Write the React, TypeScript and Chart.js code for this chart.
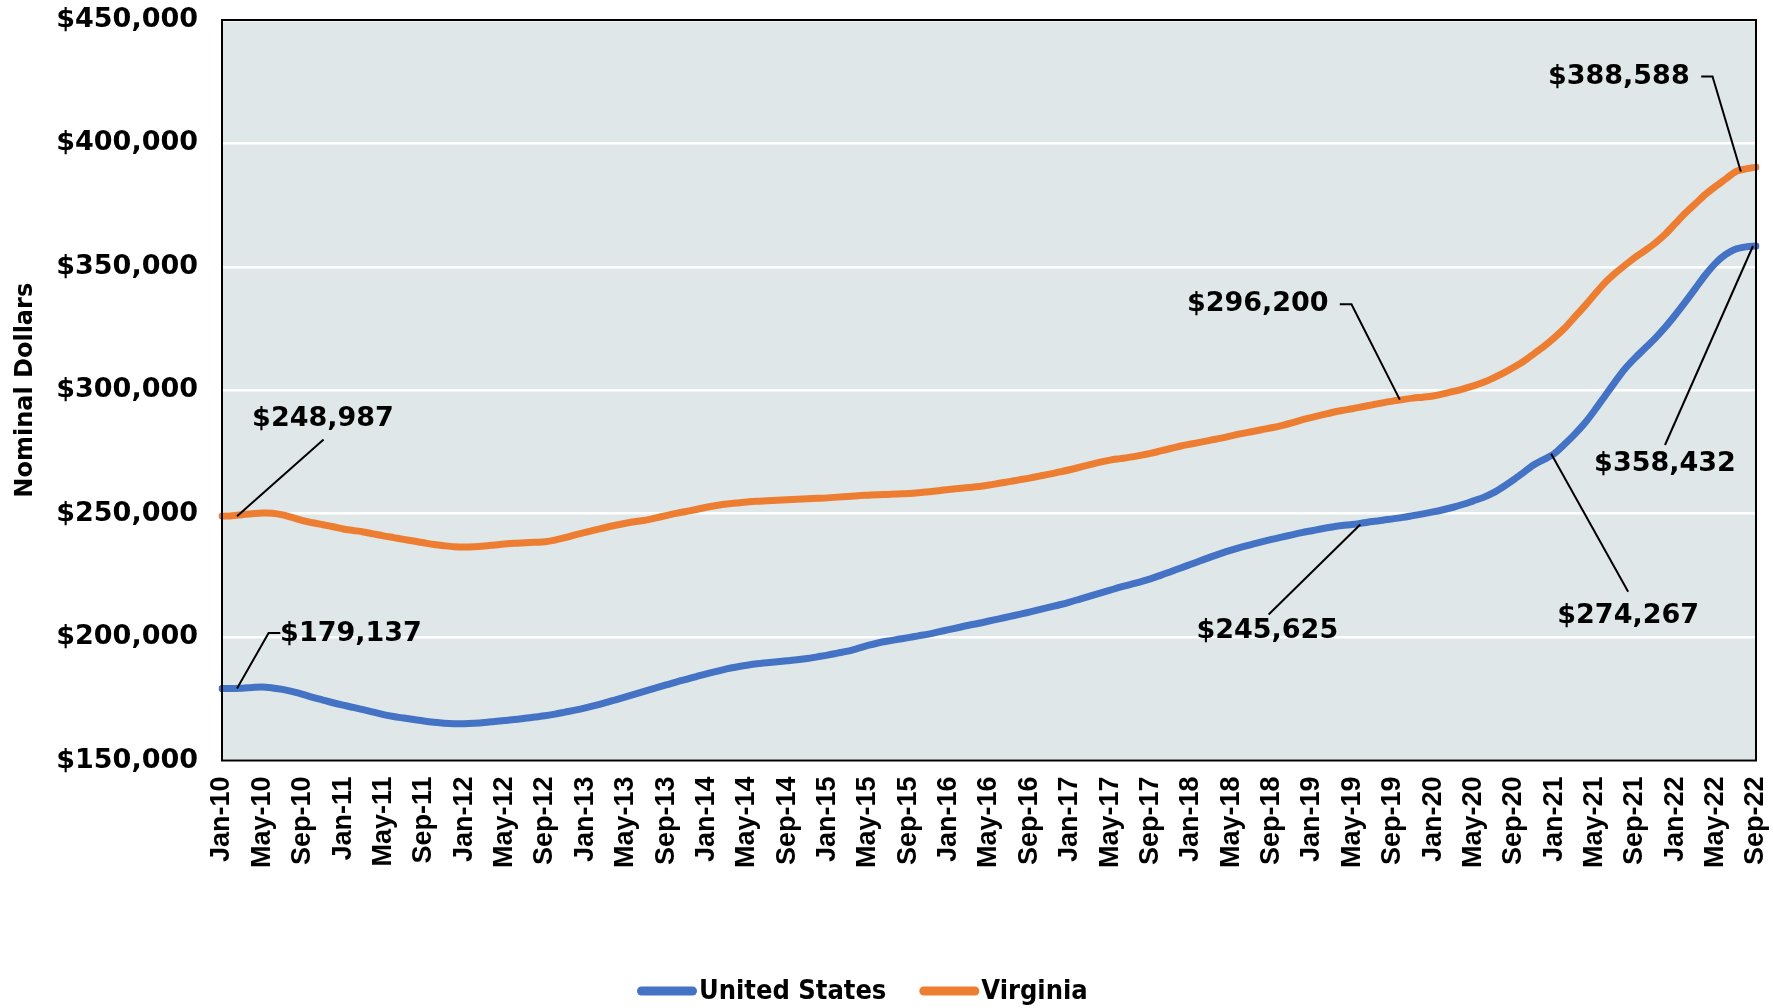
import React, { useEffect, useRef } from 'react';
import { Chart, registerables } from 'chart.js';

Chart.register(...registerables);

// ---------- data ----------
const MONTH_NAMES = ['Jan', 'Feb', 'Mar', 'Apr', 'May', 'Jun', 'Jul', 'Aug', 'Sep', 'Oct', 'Nov', 'Dec'];
const categories: string[] = [];
for (let y = 2010; y <= 2022; y++) {
  for (let m = 0; m < 12; m++) {
    if (y === 2022 && m > 8) break;
    categories.push(`${MONTH_NAMES[m]}-${String(y).slice(2)}`);
  }
}
const TICK_EVERY = 4;

const unitedStates: number[] = [
  179137, 179200, 179300, 179600, 179800, 179400, 178800, 177900, 176800, 175600, 174500, 173400,
  172400, 171500, 170600, 169600, 168600, 167800, 167200, 166600, 166000, 165500, 165100, 164900,
  164900, 165100, 165400, 165800, 166200, 166600, 167100, 167600, 168100, 168800, 169600, 170400,
  171300, 172300, 173400, 174600, 175800, 177000, 178200, 179400, 180600, 181800, 182900, 184000,
  185100, 186100, 187100, 187900, 188600, 189200, 189600, 190000, 190400, 190800, 191300, 192000,
  192700, 193500, 194300, 195400, 196600, 197600, 198400, 199100, 199800, 200500, 201200, 202100,
  203000, 203900, 204800, 205600, 206500, 207400, 208300, 209200, 210100, 211100, 212100, 213100,
  214200, 215400, 216600, 217800, 219000, 220200, 221300, 222400, 223600, 225000, 226500, 228000,
  229500, 231000, 232500, 233900, 235200, 236400, 237500, 238600, 239600, 240500, 241400, 242300,
  243100, 243900, 244600, 245200, 245625, 246200, 246800, 247300, 247900, 248500, 249200, 249900,
  250700, 251600, 252600, 253800, 255200, 256600, 258500, 261000, 263800, 266800, 269800, 272000,
  274267, 278000, 282000, 286500, 291800, 297500, 303200, 308600, 313000, 317000, 321000, 325500,
  330500, 335800, 341300, 346800, 351500, 355000, 357200, 358100, 358432,
];

const virginia: number[] = [
  248987, 249200, 249600, 250000, 250300, 250200, 249500, 248400, 247200, 246300, 245500, 244700,
  243800, 243200, 242600, 241800, 241000, 240300, 239600, 238900, 238200, 237500, 237000, 236600,
  236500, 236600, 236900, 237300, 237700, 238000, 238200, 238400, 238600, 239300, 240300, 241400,
  242400, 243400, 244400, 245300, 246100, 246800, 247400, 248300, 249200, 250100, 250900, 251700,
  252600, 253300, 253900, 254300, 254700, 255000, 255200, 255400, 255600, 255800, 256000, 256200,
  256400, 256700, 257000, 257300, 257500, 257700, 257800, 258000, 258200, 258500, 258900, 259300,
  259800, 260200, 260600, 261000, 261600, 262300, 263000, 263700, 264400, 265200, 266000, 266900,
  267800, 268800, 269900, 270900, 271700, 272300, 272900, 273600, 274400, 275400, 276400, 277400,
  278200, 279000, 279800, 280600, 281500, 282400, 283200, 284000, 284800, 285700, 286800, 288000,
  289000, 290000, 291000, 291800, 292500, 293300, 294100, 294900, 295600, 296200, 296800, 297200,
  297700, 298500, 299500, 300600, 301800, 303200, 305000, 307000, 309300, 311800, 314800, 317800,
  321200, 325000, 329500, 334000, 338800, 343400, 347200, 350600, 353800, 356600, 359600, 363200,
  367500, 371800, 375600, 379400, 382600, 385600, 388588, 389700, 390400,
];

const yTicks: number[] = [150000, 200000, 250000, 300000, 350000, 400000, 450000];

const seriesNames = ['United States', 'Virginia'];
const seriesColors = ['#4472C4', '#ED7D31'];

// annotations: dataset, index of the point, and leader layout (pixels relative to tip)
type Ann = {
  ds: number;
  index: number;
  tipDx: number;
  text: [number, number];
  path: [number, number][];
};
const annotations: Ann[] = [
  { ds: 1, index: 0, tipDx: 15, text: [86, -97], path: [[86.6, -76.7]] },
  { ds: 0, index: 0, tipDx: 15, text: [114, -55], path: [[31.6, -55.6], [43.3, -55.6]] },
  { ds: 1, index: 117, tipDx: -3, text: [-142, -96], path: [[-48.3, -95.3], [-60, -95.3]] },
  { ds: 0, index: 112, tipDx: 8, text: [-93, 107], path: [[-91.7, 90]] },
  { ds: 0, index: 132, tipDx: -3, text: [77, 162], path: [[77, 138]] },
  { ds: 0, index: 152, tipDx: -3, text: [-88, 218], path: [[-88, 199]] },
  { ds: 1, index: 150, tipDx: 5, text: [-122, -95], path: [[-28.3, -95], [-39.6, -95]] },
];

const fmt = (v: number) => '$' + Math.round(v).toLocaleString('en-US');

const NUM_FONT = '"DejaVu Sans", sans-serif';

// ---------- plugins ----------
const plotBackground = {
  id: 'plotBackground',
  beforeDraw(chart: any) {
    const { ctx, chartArea } = chart;
    ctx.save();
    ctx.fillStyle = '#ffffff';
    ctx.fillRect(0, 0, chart.width, chart.height);
    ctx.fillStyle = '#E0E7E9';
    ctx.fillRect(chartArea.left, chartArea.top, chartArea.right - chartArea.left, chartArea.bottom - chartArea.top);
    ctx.restore();
  },
};

const frameAndLabels = {
  id: 'frameAndLabels',
  afterDatasetsDraw(chart: any) {
    const { ctx, chartArea } = chart;
    ctx.save();
    ctx.strokeStyle = '#000000';
    ctx.lineWidth = 2;
    ctx.strokeRect(chartArea.left, chartArea.top, chartArea.right - chartArea.left, chartArea.bottom - chartArea.top);

    const xs = chart.scales.x;
    const ys = chart.scales.y;
    ctx.font = `bold 27px ${NUM_FONT}`;
    ctx.textAlign = 'center';
    ctx.textBaseline = 'middle';
    ctx.lineWidth = 2;
    ctx.lineCap = 'butt';
    for (const a of annotations) {
      const val = chart.data.datasets[a.ds].data[a.index] as number;
      const tx = xs.getPixelForValue(a.index) + a.tipDx;
      const ty = ys.getPixelForValue(val);
      ctx.beginPath();
      ctx.moveTo(tx, ty);
      for (const p of a.path) ctx.lineTo(tx + p[0], ty + p[1]);
      ctx.stroke();
      ctx.fillStyle = '#000000';
      ctx.fillText(fmt(val), tx + a.text[0], ty + a.text[1]);
    }
    ctx.restore();
  },
};

const customLegend = {
  id: 'customLegend',
  afterDraw(chart: any) {
    const { ctx } = chart;
    ctx.save();
    ctx.font = 'bold 27px "DejaVu Sans Condensed", "DejaVu Sans", sans-serif';
    ctx.textBaseline = 'middle';
    ctx.textAlign = 'left';
    let x = 637;
    const y = 991;
    chart.data.datasets.forEach((ds: any) => {
      ctx.strokeStyle = ds.borderColor;
      ctx.lineWidth = 9;
      ctx.lineCap = 'round';
      ctx.beginPath();
      ctx.moveTo(x + 4.5, y);
      ctx.lineTo(x + 60 - 4.5, y);
      ctx.stroke();
      ctx.fillStyle = '#000000';
      ctx.fillText(ds.label, x + 62, y + 1);
      const w = ctx.measureText(ds.label).width;
      x += 62 + w + 33;
    });
    ctx.restore();
  },
};

export default function App() {
  const canvasRef = useRef<HTMLCanvasElement | null>(null);

  useEffect(() => {
    const canvas = canvasRef.current;
    if (!canvas) return;
    const chart = new Chart(canvas, {
      type: 'line',
      data: {
        labels: categories,
        datasets: [
          {
            label: seriesNames[0],
            data: unitedStates,
            borderColor: seriesColors[0],
            backgroundColor: seriesColors[0],
            borderWidth: 7,
            pointRadius: 0,
            pointHoverRadius: 0,
            tension: 0.3,
            borderCapStyle: 'round',
            borderJoinStyle: 'round',
            fill: false,
          },
          {
            label: seriesNames[1],
            data: virginia,
            borderColor: seriesColors[1],
            backgroundColor: seriesColors[1],
            borderWidth: 7,
            pointRadius: 0,
            pointHoverRadius: 0,
            tension: 0.3,
            borderCapStyle: 'round',
            borderJoinStyle: 'round',
            fill: false,
          },
        ],
      },
      options: {
        animation: false,
        responsive: false,
        devicePixelRatio: 1,
        events: [],
        layout: { padding: { top: 20, right: 17, bottom: 137.5, left: 0 } },
        plugins: {
          legend: { display: false },
          tooltip: { enabled: false },
          title: { display: false },
        },
        scales: {
          x: {
            type: 'category',
            offset: false,
            grid: { display: false, drawTicks: false },
            border: { display: false },
            ticks: {
              autoSkip: false,
              maxRotation: 90,
              minRotation: 90,
              padding: 16,
              color: '#000000',
              font: { family: '"Liberation Sans", Arial, sans-serif', size: 27, weight: 'bold' },
              callback: (_v: any, i: number) => (i % TICK_EVERY === 0 ? categories[i] : null),
            },
            afterFit: (scale: any) => {
              scale.height = 110;
              scale.paddingLeft = 0;
              scale.paddingRight = 0;
              scale.paddingTop = 0;
              scale.paddingBottom = 0;
            },
          },
          y: {
            min: yTicks[0],
            max: yTicks[yTicks.length - 1],
            afterBuildTicks: (scale: any) => {
              scale.ticks = yTicks.map((v) => ({ value: v }));
            },
            grid: { color: '#ffffff', lineWidth: 2.5, drawTicks: false },
            border: { display: false },
            ticks: {
              padding: 24,
              color: '#000000',
              font: { family: NUM_FONT, size: 27, weight: 'bold' },
              callback: (v: any) => fmt(Number(v)),
            },
            title: {
              display: true,
              text: 'Nominal Dollars',
              color: '#000000',
              font: { family: NUM_FONT, size: 24, weight: 'bold' },
              padding: { top: 11, bottom: 0 },
            },
            afterFit: (scale: any) => {
              scale.width = 222;
              scale.paddingLeft = 0;
              scale.paddingRight = 0;
              scale.paddingTop = 0;
              scale.paddingBottom = 0;
            },
          },
        },
      },
      plugins: [plotBackground, frameAndLabels, customLegend],
    });
    return () => chart.destroy();
  }, []);

  return (
    <div style={{ position: 'fixed', left: 0, top: 0, width: 1773, height: 1008, background: '#ffffff' }}>
      <canvas ref={canvasRef} width={1773} height={1008} style={{ width: 1773, height: 1008, display: 'block' }} />
    </div>
  );
}
